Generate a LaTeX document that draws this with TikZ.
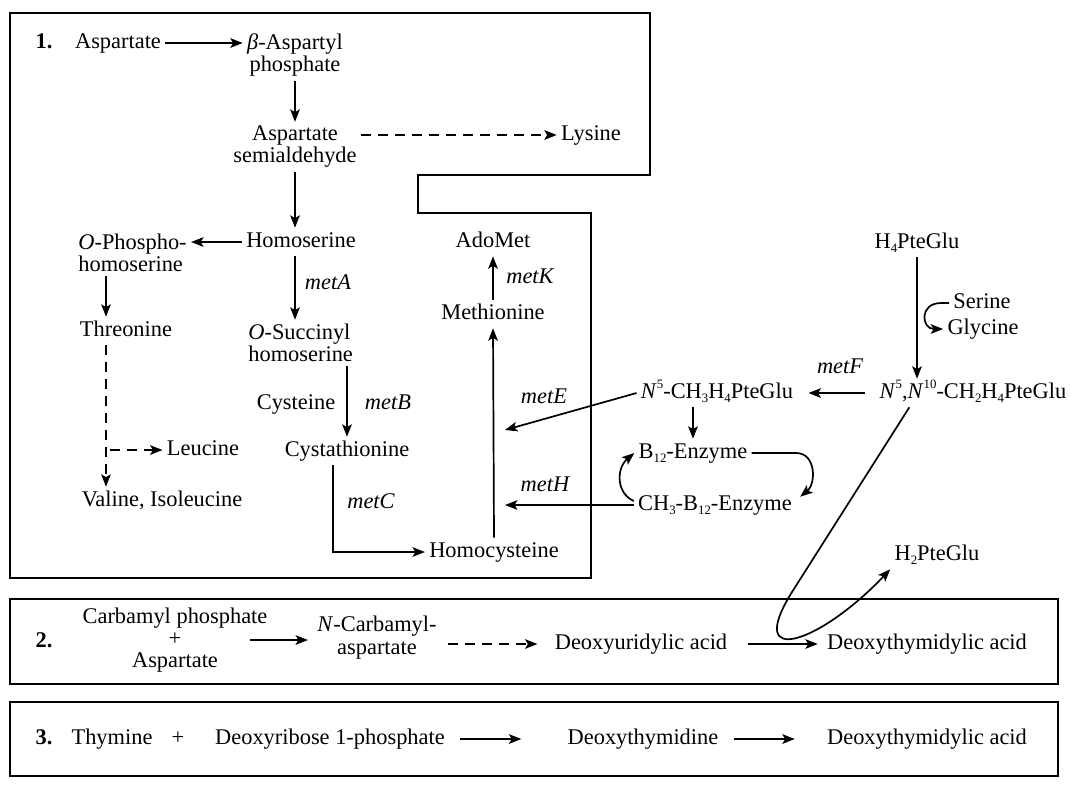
\documentclass[tikz,border=0pt]{standalone}
\usepackage{fontspec}
\setmainfont{Liberation Serif}
\usetikzlibrary{arrows.meta,calc}
\newcommand{\sbx}[1]{\raisebox{-0.45ex}{\fontsize{6.4}{6}\selectfont #1}}
\newcommand{\spx}[1]{\raisebox{0.95ex}{\fontsize{6.4}{6}\selectfont #1}}
\begin{document}
\begin{tikzpicture}[x=0.5pt,y=-0.5pt,
  every node/.style={inner sep=2pt,font=\fontsize{11.2}{11}\selectfont},
  tx/.style={text height=7.6pt,text depth=2.3pt},
  lbl/.style={tx,font=\fontsize{11.2}{11}\selectfont\itshape},
  num/.style={tx,font=\fontsize{11.2}{11}\selectfont\bfseries},
  bt/.style={tx,font=\fontsize{11.2}{10}\selectfont},
  arr/.style={line width=0.85pt,-{Stealth[length=6.2pt,width=4.8pt,inset=1.4pt]}},
  darr/.style={arr,dash pattern=on 5pt off 3.5pt},
  frame/.style={line width=1.1pt}]
\useasboundingbox (0,0) rectangle (1070,784);

% frames
\draw[frame] (10,13) -- (650,13) -- (650,175) -- (418,175) -- (418,213) -- (591,213) -- (591,578) -- (10,578) -- cycle;
\draw[frame] (10,599) rectangle (1058,684);
\draw[frame] (10,702) rectangle (1058,776);

% ---------- box 1 ----------
\node[num] (n1) at (44,43) {1.};
\node[tx] (asp) at (118,43) {Aspartate};
\node[align=center] (basp) at (295,55) {\textit{β}-Aspartyl\\phosphate};
\node[align=center] (semi) at (295,147) {Aspartate\\semialdehyde};
\node[tx] (lys) at (591,135) {Lysine};
\node[tx] (homs) at (301,242) {Homoserine};
\node[align=left,anchor=west] (ophos) at (74,253) {\textit{O}-Phospho-\\homoserine};
\node[tx] (thr) at (126,331) {Threonine};
\node[tx] (leu) at (203,450) {Leucine};
\node[tx] (val) at (162,501) {Valine, Isoleucine};
\node[align=left,anchor=west] (osuc) at (244,343) {\textit{O}-Succinyl\\homoserine};
\node[tx] (cys) at (296,404) {Cysteine};
\node[tx] (cysta) at (347,451) {Cystathionine};
\node[tx] (hcys) at (494,552) {Homocysteine};
\node[tx] (met) at (493,314) {Methionine};
\node[tx] (ado) at (493,242) {AdoMet};
\node[lbl] (lA) at (328,284) {metA};
\node[lbl] (lB) at (388,404) {metB};
\node[lbl] (lC) at (371,503) {metC};
\node[lbl] (lK) at (530,278) {metK};
\node[lbl] (lE) at (544,398) {metE};
\node[lbl] (lH) at (545,486) {metH};
\node[lbl] (lF) at (840,368) {metF};

% ---------- folate side ----------
\node[tx] (h4) at (917,243) {H\sbx{4}PteGlu};
\node[tx] (ser) at (982,303) {Serine};
\node[tx] (gly) at (983,329) {Glycine};
\node[tx] (n510) at (973,393) {\textit{N}\spx{5},\textit{N}\spx{10}-CH\sbx{2}H\sbx{4}PteGlu};
\node[tx] (n5) at (717,393) {\textit{N}\spx{5}-CH\sbx{3}H\sbx{4}PteGlu};
\node[tx] (b12) at (693,453) {B\sbx{12}-Enzyme};
\node[tx] (cb12) at (715,505) {CH\sbx{3}-B\sbx{12}-Enzyme};
\node[tx] (h2) at (937,555) {H\sbx{2}PteGlu};

% ---------- box 2 ----------
\node[num] (n2) at (44,642) {2.};
\node[align=center,font=\fontsize{11.2}{11.2}\selectfont] (carb) at (175,640) {Carbamyl phosphate\\+\\Aspartate};
\node[align=center,font=\fontsize{11.2}{11.5}\selectfont] (ncarb) at (377,638) {\textit{N}-Carbamyl-\\aspartate};
\node[bt] (du) at (641,644) {Deoxyuridylic acid};
\node[bt] (dt2) at (927,644) {Deoxythymidylic acid};

% ---------- box 3 ----------
\node[num] (n3) at (44,739) {3.};
\node[bt] (thy) at (112,739) {Thymine};
\node[bt] (pl3) at (178,739) {+};
\node[bt] (dr) at (330,739) {Deoxyribose 1-phosphate};
\node[bt] (dtd) at (643,739) {Deoxythymidine};
\node[bt] (dt3) at (927,739) {Deoxythymidylic acid};

% ---------- connectors, box 1 ----------
\draw[arr] (asp.east) -- (basp.west |- asp.east);
\draw[arr] (basp.south) -- (semi.north);
\draw[darr] (semi.east |- lys.west) -- (lys.west);
\draw[arr] (semi.south) -- (semi.south |- homs.north);
\draw[arr] (homs.west) -- (ophos.east |- homs.west);
\coordinate (tcol) at ([xshift=16pt]ophos.south west);
\draw[arr] (tcol) -- (tcol |- thr.north);
\draw[darr] (tcol |- thr.south) -- (tcol |- val.north);
\draw[darr,shorten <=2pt] (tcol |- leu.west) -- (leu.west);
\draw[arr] (semi.south |- homs.south) -- (semi.south |- osuc.north);
\draw[arr] (cysta.north |- osuc.south) -- (cysta.north);
\draw[arr] ([xshift=-7pt]cysta.south) |- (hcys.west);
\draw[arr] (hcys.north) -- (met.south);
\draw[arr] (met.north) -- (ado.south);

% ---------- connectors, folate side ----------
\coordinate (eE) at (505,430);
\coordinate (eH) at (505,505);
\draw[arr] (n5.west) -- (eE);
\draw[arr] (cb12.west) -- (eH);
\draw[arr,shorten <=5pt,shorten >=5.5pt] (n510.west) -- (n5.east);
\draw[arr] (b12.north |- n5.south) -- (b12.north);
\draw[arr] (h4.south) -- (h4.south |- n510.north);
\draw[arr] (ser.west) -- ++(-8,0) .. controls +(-22,0) and +(-22,0) .. (gly.west);
\draw[arr] ([yshift=2pt]cb12.west) .. controls +(-18,-8) and +(-18,15) .. (b12.west);
\draw[arr] (b12.east) -- (b12.east -| cb12.north east) .. controls +(20,0) and +(16,-13) .. ([xshift=2pt,yshift=-3pt]cb12.north east);
\coordinate (lp) at (792,592);
\draw[arr] ([xshift=17pt]n510.south west) -- (lp) .. controls +(-48,77) and +(-70,74) .. (h2.south west);

% ---------- connectors, box 2 ----------
\draw[arr,shorten >=2.5pt] ([xshift=-11pt]carb.east) -- (ncarb.west |- carb.east);
\draw[darr,shorten <=3.5pt,shorten >=6.5pt] (ncarb.east |- du.west) -- (du.west);
\draw[arr,shorten <=8pt,shorten >=2.5pt] (du.east) -- (dt2.west);

% ---------- connectors, box 3 ----------
\draw[arr,shorten <=5.5pt,shorten >=21pt] (dr.east) -- (dtd.west);
\draw[arr,shorten <=5.5pt,shorten >=14pt] (dtd.east) -- (dt3.west);
\end{tikzpicture}
\end{document}
